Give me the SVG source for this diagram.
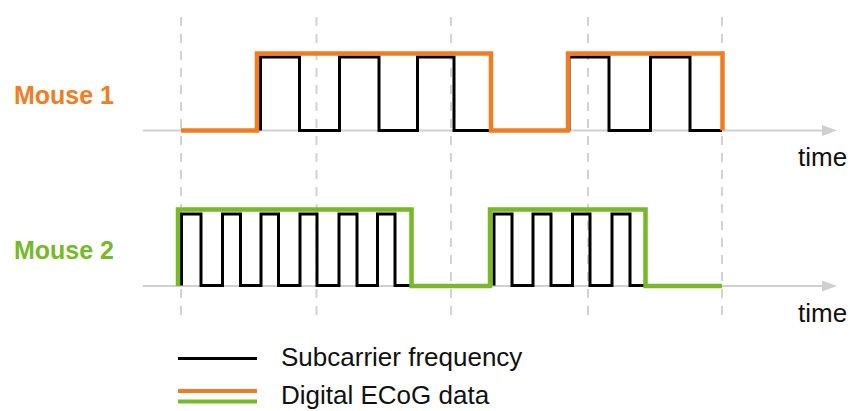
<svg xmlns="http://www.w3.org/2000/svg" width="850" height="411" viewBox="0 0 850 411">
<style>
.guide{stroke:#d2d2d2;stroke-width:2;stroke-dasharray:9 8;fill:none}
.axis{stroke:#d0d0d0;stroke-width:2;fill:none}
.arrow{fill:#cfcfcf}
.sub{stroke:#000;stroke-width:3;fill:none;stroke-linejoin:miter}
.m1{stroke:#F07D23;stroke-width:4.5;fill:none}
.m2{stroke:#78B82A;stroke-width:4.5;fill:none}
.lbl{font-family:"Liberation Sans",Arial,sans-serif;font-size:26px;fill:#111}
.mouse{font-family:"Liberation Sans",Arial,sans-serif;font-size:25px;font-weight:bold}
</style>
<rect width="850" height="411" fill="#fff"/>
<g id="guides">
<line class="guide" x1="181" y1="17" x2="181" y2="323"/>
<line class="guide" x1="316.5" y1="17" x2="316.5" y2="323"/>
<line class="guide" x1="451" y1="17" x2="451" y2="323"/>
<line class="guide" x1="588" y1="17" x2="588" y2="323"/>
<line class="guide" x1="722" y1="17" x2="722" y2="323"/>
</g>
<g id="axis1">
<line class="axis" x1="143" y1="130.5" x2="823" y2="130.5"/>
<polygon class="arrow" points="822,125 837,130.5 822,136"/>
<text class="lbl" x="798" y="166">time</text>
</g>
<g id="axis2">
<line class="axis" x1="143" y1="286" x2="823" y2="286"/>
<polygon class="arrow" points="822,280.5 837,286 822,291.5"/>
<text class="lbl" x="798" y="322">time</text>
</g>
<g id="mouse1">
<text class="mouse" x="14" y="104" fill="#F07D23">Mouse 1</text>
<path class="sub" d="M260.5,130.5 V57 H299.5 V130.5 H339.5 V57 H379 V130.5 H417.5 V57 H454 V130.5 H491"/>
<path class="sub" d="M569,130.5 V57 H609 V130.5 H650.5 V57 H690 V130.5 H722"/>
<path class="m1" d="M181,130.5 H257 V53.5 H491 V130.5 H568 V53.5 H722.5 V130.5"/>
</g>
<g id="mouse2">
<text class="mouse" x="14" y="259" fill="#78B82A">Mouse 2</text>
<path class="sub" d="M181.5,285.5 V214 H201 V285.5 H222.5 V214 H240.5 V285.5 H261 V214 H278.5 V285.5 H300 V214 H317 V285.5 H339 V214 H357 V285.5 H377.5 V214 H395 V285.5 H410"/>
<path class="sub" d="M494,285.5 V214 H512 V285.5 H533 V214 H551 V285.5 H572.5 V214 H590 V285.5 H612 V214 H630 V285.5 H646"/>
<path class="m2" d="M178,286 V209.5 H411.5 V286 H490 V209.5 H645.5 V286 H722"/>
</g>
<g id="legend">
<line x1="178" y1="358.5" x2="257" y2="358.5" stroke="#000" stroke-width="3"/>
<text class="lbl" x="281" y="366">Subcarrier frequency</text>
<line x1="178" y1="391" x2="257" y2="391" stroke="#F07D23" stroke-width="4"/>
<line x1="178" y1="401.5" x2="257" y2="401.5" stroke="#78B82A" stroke-width="4"/>
<text class="lbl" x="281" y="404">Digital ECoG data</text>
</g>
</svg>
